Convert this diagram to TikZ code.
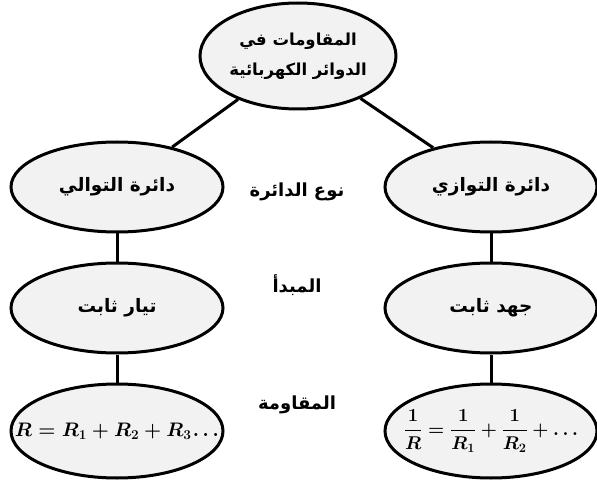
\documentclass[tikz,border=0pt]{standalone}
\usepackage{amsmath}
\usepackage{graphicx}
\usepackage{fontspec}
\usetikzlibrary{shapes.geometric}
\TeXXeTstate=1
\newfontfamily\arabicfont[Script=Arabic]{DejaVu Sans}
\definecolor{ellfill}{HTML}{F2F2F2}
\tikzset{
  ell/.style={ellipse, draw=black, fill=ellfill, line width=3pt, inner sep=0pt,
    minimum width=212pt, minimum height=90pt, font=\arabicfont\bfseries\fontsize{18.5}{22}\selectfont, align=center},
  topell/.style={ell, minimum width=196pt, minimum height=106pt, font=\arabicfont\bfseries\fontsize{16.5}{30}\selectfont},
  lbl/.style={font=\arabicfont\bfseries\fontsize{18}{20}\selectfont},
  formula/.style={ell, minimum width=212pt, minimum height=94pt},
  conn/.style={line width=3pt}
}
\begin{document}
\begin{tikzpicture}[x=1pt,y=-1pt]
\useasboundingbox (0,0) rectangle (597,481);
\node[topell] (top) at (298,56) {\beginR المقاومات في\endR\\\beginR الدوائر الكهربائية\endR};
\node[ell] (l1) at (117,187) {\beginR دائرة التوالي\endR};
\node[ell] (r1) at (491,187) {\beginR دائرة التوازي\endR};
\node[lbl] (t1) at (297,192) {\beginR نوع الدائرة\endR};
\node[ell] (l2) at (117,308) {\beginR تيار ثابت\endR};
\node[ell] (r2) at (491,308) {\beginR جهد ثابت\endR};
\node[lbl] (t2) at (297,285) {\beginR المبدأ\endR};
\node[formula] (l3) at (117,431) {\makebox[0pt]{\resizebox{204pt}{!}{\fontsize{20}{24}\selectfont\boldmath$R = R_1 + R_2 + R_3 \mkern-2mu\ldots$}}};
\node[formula] (r3) at (491,431) {\makebox[0pt]{\resizebox{174pt}{!}{\fontsize{20}{24}\selectfont\boldmath$\dfrac{1}{R} = \dfrac{1}{R_1} + \dfrac{1}{R_2} + \ldots$}}};
\node[lbl] (t3) at (297,405) {\beginR المقاومة\endR};
\draw[conn] (top) -- (l1);
\draw[conn] (top) -- (r1);
\draw[conn] (l1) -- (l2);
\draw[conn] (r1) -- (r2);
\draw[conn] (l2) -- (l3);
\draw[conn] (r2) -- (r3);
\end{tikzpicture}
\end{document}
